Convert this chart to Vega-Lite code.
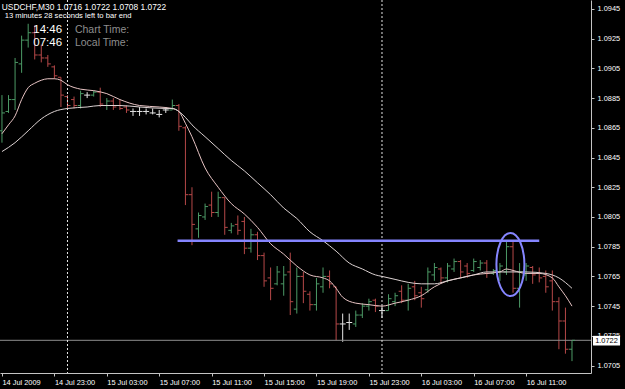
{
"$schema":"https://vega.github.io/schema/vega-lite/v6.json",
"width":591,"height":373,"padding":{"left":0,"top":0,"right":34,"bottom":16},"autosize":"none","background":"#000000",
"config":{"view":{"stroke":null},"font":"Liberation Sans","axis":{"labelFont":"Liberation Sans","labelFontSize":7.4,"labelColor":"#ffffff","domainColor":"#c4c4c4","tickColor":"#c4c4c4","grid":false,"labelOverlap":false,"labelFlush":false,"labelBound":false}},
"datasets":{
"bars":[
{"t":"2009-07-14T19:00Z","o":1.0863,"h":1.0887,"l":1.0855,"c":1.0875},
{"t":"2009-07-14T19:30Z","o":1.0876,"h":1.0887,"l":1.0875,"c":1.0884},
{"t":"2009-07-14T20:00Z","o":1.0884,"h":1.0912,"l":1.0877,"c":1.0909},
{"t":"2009-07-14T20:30Z","o":1.0908,"h":1.0927,"l":1.0902,"c":1.0924},
{"t":"2009-07-14T21:00Z","o":1.0924,"h":1.0935,"l":1.0919,"c":1.0929},
{"t":"2009-07-14T21:30Z","o":1.0929,"h":1.0934,"l":1.0911,"c":1.0914},
{"t":"2009-07-14T22:00Z","o":1.0914,"h":1.0921,"l":1.0909,"c":1.0912},
{"t":"2009-07-14T22:30Z","o":1.0912,"h":1.0914,"l":1.0906,"c":1.0908},
{"t":"2009-07-14T23:00Z","o":1.0906,"h":1.0907,"l":1.0898,"c":1.0900},
{"t":"2009-07-14T23:30Z","o":1.0899,"h":1.0899,"l":1.0879,"c":1.0887},
{"t":"2009-07-15T00:00Z","o":1.0886,"h":1.0887,"l":1.0878,"c":1.0880},
{"t":"2009-07-15T00:30Z","o":1.0884,"h":1.0886,"l":1.0878,"c":1.0880},
{"t":"2009-07-15T01:00Z","o":1.0880,"h":1.0890,"l":1.0878,"c":1.0888},
{"t":"2009-07-15T01:30Z","o":1.0887,"h":1.0889,"l":1.0885,"c":1.0887},
{"t":"2009-07-15T02:00Z","o":1.0887,"h":1.0890,"l":1.0886,"c":1.0889},
{"t":"2009-07-15T02:30Z","o":1.0889,"h":1.0892,"l":1.0879,"c":1.0881},
{"t":"2009-07-15T03:00Z","o":1.0880,"h":1.0885,"l":1.0877,"c":1.0883},
{"t":"2009-07-15T03:30Z","o":1.0883,"h":1.0885,"l":1.0877,"c":1.0879},
{"t":"2009-07-15T04:00Z","o":1.0880,"h":1.0884,"l":1.0877,"c":1.0878},
{"t":"2009-07-15T04:30Z","o":1.0879,"h":1.0880,"l":1.0875,"c":1.0877},
{"t":"2009-07-15T05:00Z","o":1.0876,"h":1.0878,"l":1.0873,"c":1.0876},
{"t":"2009-07-15T05:30Z","o":1.0876,"h":1.0879,"l":1.0873,"c":1.0876},
{"t":"2009-07-15T06:00Z","o":1.0876,"h":1.0878,"l":1.0874,"c":1.0876},
{"t":"2009-07-15T06:30Z","o":1.0875,"h":1.0878,"l":1.0874,"c":1.0875},
{"t":"2009-07-15T07:00Z","o":1.0874,"h":1.0877,"l":1.0872,"c":1.0874},
{"t":"2009-07-15T07:30Z","o":1.0877,"h":1.0879,"l":1.0875,"c":1.0877},
{"t":"2009-07-15T08:00Z","o":1.0877,"h":1.0884,"l":1.0877,"c":1.0880},
{"t":"2009-07-15T08:30Z","o":1.0880,"h":1.0881,"l":1.0863,"c":1.0866},
{"t":"2009-07-15T09:00Z","o":1.0865,"h":1.0866,"l":1.0813,"c":1.0820},
{"t":"2009-07-15T09:30Z","o":1.0820,"h":1.0825,"l":1.0786,"c":1.0800},
{"t":"2009-07-15T10:00Z","o":1.0797,"h":1.0808,"l":1.0791,"c":1.0806},
{"t":"2009-07-15T10:30Z","o":1.0805,"h":1.0814,"l":1.0803,"c":1.0812},
{"t":"2009-07-15T11:00Z","o":1.0813,"h":1.0822,"l":1.0805,"c":1.0808},
{"t":"2009-07-15T11:30Z","o":1.0808,"h":1.0822,"l":1.0805,"c":1.0818},
{"t":"2009-07-15T12:00Z","o":1.0818,"h":1.0818,"l":1.0793,"c":1.0798},
{"t":"2009-07-15T12:30Z","o":1.0796,"h":1.0801,"l":1.0794,"c":1.0799},
{"t":"2009-07-15T13:00Z","o":1.0800,"h":1.0806,"l":1.0793,"c":1.0796},
{"t":"2009-07-15T13:30Z","o":1.0802,"h":1.0805,"l":1.0780,"c":1.0784},
{"t":"2009-07-15T14:00Z","o":1.0784,"h":1.0797,"l":1.0781,"c":1.0793},
{"t":"2009-07-15T14:30Z","o":1.0793,"h":1.0795,"l":1.0776,"c":1.0779},
{"t":"2009-07-15T15:00Z","o":1.0779,"h":1.0781,"l":1.0758,"c":1.0762},
{"t":"2009-07-15T15:30Z","o":1.0764,"h":1.0771,"l":1.0749,"c":1.0757},
{"t":"2009-07-15T16:00Z","o":1.0760,"h":1.0772,"l":1.0759,"c":1.0768},
{"t":"2009-07-15T16:30Z","o":1.0760,"h":1.0772,"l":1.0752,"c":1.0766},
{"t":"2009-07-15T17:00Z","o":1.0768,"h":1.0781,"l":1.0739,"c":1.0748},
{"t":"2009-07-15T17:30Z","o":1.0743,"h":1.0771,"l":1.0740,"c":1.0765},
{"t":"2009-07-15T18:00Z","o":1.0765,"h":1.0768,"l":1.0747,"c":1.0755},
{"t":"2009-07-15T18:30Z","o":1.0753,"h":1.0755,"l":1.0742,"c":1.0746},
{"t":"2009-07-15T19:00Z","o":1.0746,"h":1.0764,"l":1.0742,"c":1.0760},
{"t":"2009-07-15T19:30Z","o":1.0758,"h":1.0771,"l":1.0754,"c":1.0765},
{"t":"2009-07-15T20:00Z","o":1.0765,"h":1.0769,"l":1.0757,"c":1.0760},
{"t":"2009-07-15T20:30Z","o":1.0758,"h":1.0758,"l":1.0722,"c":1.0733},
{"t":"2009-07-15T21:00Z","o":1.0733,"h":1.0740,"l":1.0721,"c":1.0733},
{"t":"2009-07-15T21:30Z","o":1.0734,"h":1.0740,"l":1.0729,"c":1.0734},
{"t":"2009-07-15T22:00Z","o":1.0733,"h":1.0742,"l":1.0731,"c":1.0739},
{"t":"2009-07-15T22:30Z","o":1.0739,"h":1.0747,"l":1.0737,"c":1.0745},
{"t":"2009-07-15T23:00Z","o":1.0745,"h":1.0750,"l":1.0742,"c":1.0748},
{"t":"2009-07-15T23:30Z","o":1.0749,"h":1.0750,"l":1.0741,"c":1.0745},
{"t":"2009-07-16T00:00Z","o":1.0742,"h":1.0745,"l":1.0737,"c":1.0742},
{"t":"2009-07-16T00:30Z","o":1.0742,"h":1.0753,"l":1.0742,"c":1.0750},
{"t":"2009-07-16T01:00Z","o":1.0748,"h":1.0754,"l":1.0745,"c":1.0752},
{"t":"2009-07-16T01:30Z","o":1.0755,"h":1.0759,"l":1.0747,"c":1.0749},
{"t":"2009-07-16T02:00Z","o":1.0749,"h":1.0760,"l":1.0742,"c":1.0757},
{"t":"2009-07-16T02:30Z","o":1.0758,"h":1.0762,"l":1.0749,"c":1.0752},
{"t":"2009-07-16T03:00Z","o":1.0754,"h":1.0758,"l":1.0744,"c":1.0750},
{"t":"2009-07-16T03:30Z","o":1.0756,"h":1.0771,"l":1.0754,"c":1.0768},
{"t":"2009-07-16T04:00Z","o":1.0766,"h":1.0774,"l":1.0762,"c":1.0771},
{"t":"2009-07-16T04:30Z","o":1.0770,"h":1.0771,"l":1.0760,"c":1.0764},
{"t":"2009-07-16T05:00Z","o":1.0764,"h":1.0774,"l":1.0761,"c":1.0772},
{"t":"2009-07-16T05:30Z","o":1.0770,"h":1.0777,"l":1.0768,"c":1.0775},
{"t":"2009-07-16T06:00Z","o":1.0775,"h":1.0776,"l":1.0764,"c":1.0768},
{"t":"2009-07-16T06:30Z","o":1.0772,"h":1.0774,"l":1.0764,"c":1.0767},
{"t":"2009-07-16T07:00Z","o":1.0769,"h":1.0777,"l":1.0768,"c":1.0775},
{"t":"2009-07-16T07:30Z","o":1.0771,"h":1.0776,"l":1.0769,"c":1.0774},
{"t":"2009-07-16T08:00Z","o":1.0774,"h":1.0776,"l":1.0764,"c":1.0767},
{"t":"2009-07-16T08:30Z","o":1.0767,"h":1.0770,"l":1.0766,"c":1.0769},
{"t":"2009-07-16T09:00Z","o":1.0768,"h":1.0774,"l":1.0762,"c":1.0772},
{"t":"2009-07-16T09:30Z","o":1.0768,"h":1.0789,"l":1.0766,"c":1.0785},
{"t":"2009-07-16T10:00Z","o":1.0785,"h":1.0789,"l":1.0754,"c":1.0757},
{"t":"2009-07-16T10:30Z","o":1.0757,"h":1.0774,"l":1.0744,"c":1.0768},
{"t":"2009-07-16T11:00Z","o":1.0766,"h":1.0774,"l":1.0762,"c":1.0772},
{"t":"2009-07-16T11:30Z","o":1.0771,"h":1.0772,"l":1.0760,"c":1.0766},
{"t":"2009-07-16T12:00Z","o":1.0767,"h":1.0771,"l":1.0761,"c":1.0764},
{"t":"2009-07-16T12:30Z","o":1.0765,"h":1.0769,"l":1.0754,"c":1.0758},
{"t":"2009-07-16T13:00Z","o":1.0762,"h":1.0769,"l":1.0742,"c":1.0748},
{"t":"2009-07-16T13:30Z","o":1.0748,"h":1.0751,"l":1.0716,"c":1.0735},
{"t":"2009-07-16T14:00Z","o":1.0735,"h":1.0744,"l":1.0713,"c":1.0716},
{"t":"2009-07-16T14:30Z","o":1.0716,"h":1.0722,"l":1.0708,"c":1.0722}
],
"ma":[
{"t":"2009-07-14T19:00Z","v":1.0861,"s":"fast"},
{"t":"2009-07-14T19:30Z","v":1.0867,"s":"fast"},
{"t":"2009-07-14T20:00Z","v":1.0873,"s":"fast"},
{"t":"2009-07-14T20:30Z","v":1.0884,"s":"fast"},
{"t":"2009-07-14T21:00Z","v":1.0892,"s":"fast"},
{"t":"2009-07-14T21:30Z","v":1.0895,"s":"fast"},
{"t":"2009-07-14T22:00Z","v":1.0897,"s":"fast"},
{"t":"2009-07-14T22:30Z","v":1.0898,"s":"fast"},
{"t":"2009-07-14T23:00Z","v":1.0898,"s":"fast"},
{"t":"2009-07-14T23:30Z","v":1.0897,"s":"fast"},
{"t":"2009-07-15T00:00Z","v":1.0894,"s":"fast"},
{"t":"2009-07-15T01:00Z","v":1.0891,"s":"fast"},
{"t":"2009-07-15T02:00Z","v":1.0890,"s":"fast"},
{"t":"2009-07-15T03:00Z","v":1.0888,"s":"fast"},
{"t":"2009-07-15T04:00Z","v":1.0884,"s":"fast"},
{"t":"2009-07-15T05:30Z","v":1.0880,"s":"fast"},
{"t":"2009-07-15T07:00Z","v":1.0879,"s":"fast"},
{"t":"2009-07-15T08:00Z","v":1.0878,"s":"fast"},
{"t":"2009-07-15T08:30Z","v":1.0876,"s":"fast"},
{"t":"2009-07-15T09:00Z","v":1.0868,"s":"fast"},
{"t":"2009-07-15T09:30Z","v":1.0859,"s":"fast"},
{"t":"2009-07-15T10:30Z","v":1.0838,"s":"fast"},
{"t":"2009-07-15T11:30Z","v":1.0825,"s":"fast"},
{"t":"2009-07-15T12:30Z","v":1.0814,"s":"fast"},
{"t":"2009-07-15T13:30Z","v":1.0807,"s":"fast"},
{"t":"2009-07-15T14:30Z","v":1.0798,"s":"fast"},
{"t":"2009-07-15T15:30Z","v":1.0787,"s":"fast"},
{"t":"2009-07-15T16:30Z","v":1.0780,"s":"fast"},
{"t":"2009-07-15T17:30Z","v":1.0772,"s":"fast"},
{"t":"2009-07-15T18:30Z","v":1.0766,"s":"fast"},
{"t":"2009-07-15T19:30Z","v":1.0764,"s":"fast"},
{"t":"2009-07-15T20:00Z","v":1.0762,"s":"fast"},
{"t":"2009-07-15T20:30Z","v":1.0757,"s":"fast"},
{"t":"2009-07-15T21:00Z","v":1.0751,"s":"fast"},
{"t":"2009-07-15T22:00Z","v":1.0747,"s":"fast"},
{"t":"2009-07-15T23:00Z","v":1.0746,"s":"fast"},
{"t":"2009-07-16T00:00Z","v":1.0745,"s":"fast"},
{"t":"2009-07-16T01:00Z","v":1.0747,"s":"fast"},
{"t":"2009-07-16T02:00Z","v":1.0749,"s":"fast"},
{"t":"2009-07-16T03:00Z","v":1.0752,"s":"fast"},
{"t":"2009-07-16T04:00Z","v":1.0758,"s":"fast"},
{"t":"2009-07-16T05:00Z","v":1.0762,"s":"fast"},
{"t":"2009-07-16T06:00Z","v":1.0764,"s":"fast"},
{"t":"2009-07-16T07:00Z","v":1.0766,"s":"fast"},
{"t":"2009-07-16T08:00Z","v":1.0767,"s":"fast"},
{"t":"2009-07-16T09:00Z","v":1.0768,"s":"fast"},
{"t":"2009-07-16T09:30Z","v":1.0770,"s":"fast"},
{"t":"2009-07-16T10:00Z","v":1.0769,"s":"fast"},
{"t":"2009-07-16T11:00Z","v":1.0767,"s":"fast"},
{"t":"2009-07-16T12:00Z","v":1.0767,"s":"fast"},
{"t":"2009-07-16T13:00Z","v":1.0764,"s":"fast"},
{"t":"2009-07-16T13:30Z","v":1.0758,"s":"fast"},
{"t":"2009-07-16T14:00Z","v":1.0752,"s":"fast"},
{"t":"2009-07-16T14:30Z","v":1.0745,"s":"fast"},
{"t":"2009-07-14T19:00Z","v":1.0849,"s":"slow"},
{"t":"2009-07-14T20:00Z","v":1.0855,"s":"slow"},
{"t":"2009-07-14T21:00Z","v":1.0863,"s":"slow"},
{"t":"2009-07-14T22:00Z","v":1.0871,"s":"slow"},
{"t":"2009-07-14T23:00Z","v":1.0876,"s":"slow"},
{"t":"2009-07-15T00:00Z","v":1.0878,"s":"slow"},
{"t":"2009-07-15T01:30Z","v":1.0879,"s":"slow"},
{"t":"2009-07-15T02:30Z","v":1.0880,"s":"slow"},
{"t":"2009-07-15T04:00Z","v":1.0880,"s":"slow"},
{"t":"2009-07-15T05:30Z","v":1.0879,"s":"slow"},
{"t":"2009-07-15T07:30Z","v":1.0878,"s":"slow"},
{"t":"2009-07-15T08:00Z","v":1.0878,"s":"slow"},
{"t":"2009-07-15T08:30Z","v":1.0876,"s":"slow"},
{"t":"2009-07-15T09:00Z","v":1.0872,"s":"slow"},
{"t":"2009-07-15T09:30Z","v":1.0867,"s":"slow"},
{"t":"2009-07-15T10:30Z","v":1.0859,"s":"slow"},
{"t":"2009-07-15T11:30Z","v":1.0851,"s":"slow"},
{"t":"2009-07-15T12:30Z","v":1.0843,"s":"slow"},
{"t":"2009-07-15T13:30Z","v":1.0836,"s":"slow"},
{"t":"2009-07-15T14:30Z","v":1.0828,"s":"slow"},
{"t":"2009-07-15T15:30Z","v":1.0820,"s":"slow"},
{"t":"2009-07-15T16:30Z","v":1.0811,"s":"slow"},
{"t":"2009-07-15T17:30Z","v":1.0804,"s":"slow"},
{"t":"2009-07-15T18:30Z","v":1.0795,"s":"slow"},
{"t":"2009-07-15T19:30Z","v":1.0789,"s":"slow"},
{"t":"2009-07-15T20:30Z","v":1.0782,"s":"slow"},
{"t":"2009-07-15T21:30Z","v":1.0774,"s":"slow"},
{"t":"2009-07-15T22:30Z","v":1.0770,"s":"slow"},
{"t":"2009-07-15T23:30Z","v":1.0766,"s":"slow"},
{"t":"2009-07-16T00:00Z","v":1.0765,"s":"slow"},
{"t":"2009-07-16T01:00Z","v":1.0763,"s":"slow"},
{"t":"2009-07-16T02:00Z","v":1.0761,"s":"slow"},
{"t":"2009-07-16T03:00Z","v":1.0760,"s":"slow"},
{"t":"2009-07-16T04:00Z","v":1.0760,"s":"slow"},
{"t":"2009-07-16T05:00Z","v":1.0762,"s":"slow"},
{"t":"2009-07-16T06:00Z","v":1.0764,"s":"slow"},
{"t":"2009-07-16T07:00Z","v":1.0766,"s":"slow"},
{"t":"2009-07-16T08:00Z","v":1.0768,"s":"slow"},
{"t":"2009-07-16T09:30Z","v":1.0768,"s":"slow"},
{"t":"2009-07-16T11:00Z","v":1.0768,"s":"slow"},
{"t":"2009-07-16T12:30Z","v":1.0767,"s":"slow"},
{"t":"2009-07-16T13:30Z","v":1.0764,"s":"slow"},
{"t":"2009-07-16T14:30Z","v":1.0757,"s":"slow"}
],
"days":[{"t":"2009-07-15T00:00Z"},{"t":"2009-07-16T00:00Z"}]
},
"layer":[
{"data":{"name":"bars"},"mark":{"type":"rule","strokeWidth":1},
 "encoding":{
  "x":{"field":"t","type":"temporal",
   "scale":{"type":"utc","domain":[{"year":2009,"month":7,"date":14,"hours":18,"minutes":51,"utc":true},{"year":2009,"month":7,"date":16,"hours":15,"minutes":57,"utc":true}]},
   "axis":{"title":null,"orient":"bottom","tickSize":3,"tickCount":30,"labelAlign":"left","labelBaseline":"top","labelPadding":2,"labelOverlap":false,"labelSeparation":0,
    "values":[{"year":2009,"month":7,"date":14,"hours":19,"utc":true},{"year":2009,"month":7,"date":14,"hours":23,"utc":true},{"year":2009,"month":7,"date":15,"hours":3,"utc":true},{"year":2009,"month":7,"date":15,"hours":7,"utc":true},{"year":2009,"month":7,"date":15,"hours":11,"utc":true},{"year":2009,"month":7,"date":15,"hours":15,"utc":true},{"year":2009,"month":7,"date":15,"hours":19,"utc":true},{"year":2009,"month":7,"date":15,"hours":23,"utc":true},{"year":2009,"month":7,"date":16,"hours":3,"utc":true},{"year":2009,"month":7,"date":16,"hours":7,"utc":true},{"year":2009,"month":7,"date":16,"hours":11,"utc":true}],
    "labelExpr":"utcFormat(datum.value, '%d %H') == '14 19' ? '14 Jul 2009' : utcFormat(datum.value, '%d %b %H:%M')"}},
  "y":{"field":"l","type":"quantitative",
   "scale":{"domain":[1.07,1.0951],"zero":false,"nice":false},
   "axis":{"title":null,"orient":"right","tickSize":3,"tickCount":30,"labelPadding":3,"format":".4f","labelOverlap":false,"labelSeparation":0,
    "values":[1.0705,1.0725,1.0745,1.0765,1.0785,1.0805,1.0825,1.0845,1.0865,1.0885,1.0905,1.0925,1.0945]}},
  "y2":{"field":"h"},
  "color":{"condition":[{"test":"datum.c > datum.o","value":"#4c9a66"},{"test":"datum.c < datum.o","value":"#b54848"}],"value":"#e6e6e6"}
 }},
{"data":{"values":[{}]},"mark":{"type":"rule","color":"#8e8e8e","strokeWidth":1},
 "encoding":{"y":{"datum":1.0722,"type":"quantitative"}}},
{"data":{"name":"days"},"mark":{"type":"rule","color":"#e6e6e6","strokeWidth":1,"strokeDash":[2,2]},
 "encoding":{"x":{"field":"t","type":"temporal"}}},
{"data":{"name":"bars"},"mark":{"type":"tick","orient":"horizontal","size":3,"thickness":1,"xOffset":-1.5,"opacity":1},
 "encoding":{
  "x":{"field":"t","type":"temporal"},
  "y":{"field":"o","type":"quantitative"},
  "color":{"condition":[{"test":"datum.c > datum.o","value":"#4c9a66"},{"test":"datum.c < datum.o","value":"#b54848"}],"value":"#e6e6e6"}
 }},
{"data":{"name":"bars"},"mark":{"type":"tick","orient":"horizontal","size":3,"thickness":1,"xOffset":1.5,"opacity":1},
 "encoding":{
  "x":{"field":"t","type":"temporal"},
  "y":{"field":"c","type":"quantitative"},
  "color":{"condition":[{"test":"datum.c > datum.o","value":"#4c9a66"},{"test":"datum.c < datum.o","value":"#b54848"}],"value":"#e6e6e6"}
 }},
{"data":{"name":"ma"},"mark":{"type":"line","strokeWidth":1,"interpolate":"monotone"},
 "encoding":{
  "x":{"field":"t","type":"temporal"},
  "y":{"field":"v","type":"quantitative"},
  "color":{"field":"s","type":"nominal","scale":{"domain":["fast","slow"],"range":["#e8c4c4","#dcd2d2"]},"legend":null}
 }},
{"data":{"values":[{}]},"mark":{"type":"rule","color":"#8585ff","strokeWidth":2.5},
 "encoding":{
  "x":{"datum":{"year":2009,"month":7,"date":15,"hours":8,"minutes":24,"utc":true},"type":"temporal"},
  "x2":{"datum":{"year":2009,"month":7,"date":16,"hours":12,"minutes":0,"utc":true}},
  "y":{"datum":1.0789,"type":"quantitative"}
 }},
{"data":{"values":[{}]},"mark":{"type":"point","shape":"M -0.444 0 C -0.444 -0.5523 -0.2452 -1 0 -1 C 0.2452 -1 0.444 -0.5523 0.444 0 C 0.444 0.5523 0.2452 1 0 1 C -0.2452 1 -0.444 0.5523 -0.444 0 Z","size":3969,"filled":false,"color":"#8585ff","strokeWidth":2,"opacity":1},
 "encoding":{
  "x":{"datum":{"year":2009,"month":7,"date":16,"hours":9,"minutes":48,"utc":true},"type":"temporal"},
  "y":{"datum":1.0773,"type":"quantitative"}
 }},
{"data":{"values":[{}]},"mark":{"type":"text","text":"USDCHF,M30  1.0716 1.0722 1.0708 1.0722","align":"left","baseline":"alphabetic","fontSize":8.4,"color":"#ffffff"},
 "encoding":{
  "x":{"datum":{"year":2009,"month":7,"date":14,"hours":18,"minutes":59,"utc":true},"type":"temporal"},
  "y":{"datum":1.09443,"type":"quantitative"}
 }},
{"data":{"values":[{}]},"mark":{"type":"text","text":"13 minutes 28 seconds left to bar end","align":"left","baseline":"alphabetic","fontSize":7.6,"color":"#ffffff"},
 "encoding":{
  "x":{"datum":{"year":2009,"month":7,"date":14,"hours":19,"minutes":13,"utc":true},"type":"temporal"},
  "y":{"datum":1.09389,"type":"quantitative"}
 }},
{"data":{"values":[{}]},"mark":{"type":"text","text":"14:46","align":"right","baseline":"alphabetic","fontSize":11.5,"color":"#ffffff"},
 "encoding":{
  "x":{"datum":{"year":2009,"month":7,"date":14,"hours":23,"minutes":35,"utc":true},"type":"temporal"},
  "y":{"datum":1.09288,"type":"quantitative"}
 }},
{"data":{"values":[{}]},"mark":{"type":"text","text":"07:46","align":"right","baseline":"alphabetic","fontSize":11.5,"color":"#ffffff"},
 "encoding":{
  "x":{"datum":{"year":2009,"month":7,"date":14,"hours":23,"minutes":35,"utc":true},"type":"temporal"},
  "y":{"datum":1.09200,"type":"quantitative"}
 }},
{"data":{"values":[{}]},"mark":{"type":"text","text":"Chart Time:","align":"left","baseline":"alphabetic","fontSize":10.5,"color":"#8e8e8e"},
 "encoding":{
  "x":{"datum":{"year":2009,"month":7,"date":15,"hours":0,"minutes":34,"utc":true},"type":"temporal"},
  "y":{"datum":1.09288,"type":"quantitative"}
 }},
{"data":{"values":[{}]},"mark":{"type":"text","text":"Local Time:","align":"left","baseline":"alphabetic","fontSize":10.5,"color":"#8e8e8e"},
 "encoding":{
  "x":{"datum":{"year":2009,"month":7,"date":15,"hours":0,"minutes":34,"utc":true},"type":"temporal"},
  "y":{"datum":1.09200,"type":"quantitative"}
 }},
{"data":{"values":[{}]},"mark":{"type":"rect","color":"#ffffff"},
 "encoding":{
  "x":{"datum":{"year":2009,"month":7,"date":16,"hours":16,"minutes":6,"utc":true},"type":"temporal"},
  "x2":{"datum":{"year":2009,"month":7,"date":16,"hours":18,"minutes":10,"utc":true}},
  "y":{"datum":1.0725,"type":"quantitative"},
  "y2":{"datum":1.07185}
 }},
{"data":{"values":[{}]},"mark":{"type":"text","text":"1.0722","align":"center","baseline":"middle","fontSize":7.4,"color":"#000000"},
 "encoding":{
  "x":{"datum":{"year":2009,"month":7,"date":16,"hours":17,"minutes":8,"utc":true},"type":"temporal"},
  "y":{"datum":1.07217,"type":"quantitative"}
 }}
]
}
